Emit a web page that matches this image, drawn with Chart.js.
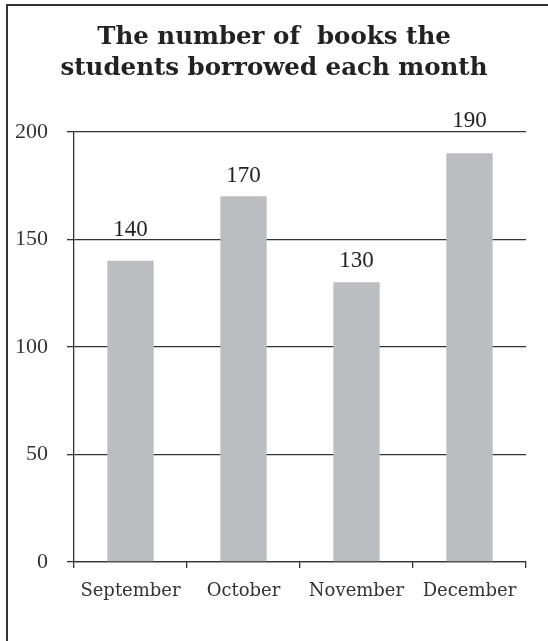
<!DOCTYPE html>
<html>
<head>
<meta charset="utf-8">
<script src="https://cdn.jsdelivr.net/npm/chart.js@4/dist/chart.umd.min.js"></script>
<style>
    body { margin: 0; background: #fff; }
    #wrap { position: relative; width: 548px; height: 641px; overflow: hidden; }
    #frame {
        position: absolute; left: 6px; top: 4px; width: 600px; height: 700px;
        border-left: 2px solid #333; border-top: 2px solid #333; pointer-events: none;
    }
</style>
</head>
<body>
<div id="wrap">
    <canvas id="booksChart" width="548" height="641"></canvas>
    <div id="frame"></div>
</div>
<script>
const TITLE_LINES = ['The number of  books the', 'students borrowed each month'];
const MONTHS = ['September', 'October', 'November', 'December'];
const BOOKS = [140, 170, 130, 190];
const Y_TICKS = [0, 50, 100, 150, 200];

// labels in the original sit a little irregularly above the bars
const labelOffsets = [25, 14, 15, 26];

const valueLabels = {
    id: 'valueLabels',
    afterDatasetsDraw(chart) {
        const ctx = chart.ctx;
        const meta = chart.getDatasetMeta(0);
        ctx.save();
        ctx.font = '23px "Liberation Serif"';
        ctx.fillStyle = '#222';
        ctx.textAlign = 'center';
        ctx.textBaseline = 'alphabetic';
        meta.data.forEach((bar, i) => {
            ctx.fillText(String(BOOKS[i]), bar.x, bar.y - labelOffsets[i]);
        });
        ctx.restore();
    }
};

const ctx = document.getElementById('booksChart').getContext('2d');
const chart = new Chart(ctx, {
    type: 'bar',
    data: {
        labels: MONTHS,
        datasets: [{
            data: BOOKS,
            backgroundColor: '#bcbdc1',
            borderWidth: 0,
            barPercentage: 0.41,
            categoryPercentage: 1
        }]
    },
    options: {
        responsive: false,
        animation: false,
        layout: { padding: { left: 14, right: 14, top: 0, bottom: 0 } },
        plugins: {
            legend: { display: false },
            tooltip: { enabled: false },
            title: {
                display: true,
                text: TITLE_LINES,
                color: '#222',
                font: { family: '"DejaVu Serif"', size: 24.5, weight: 'bold', lineHeight: 1.27 },
                padding: { top: 22, bottom: 47.5 }
            }
        },
        scales: {
            x: {
                offset: true,
                grid: {
                    offset: true,
                    drawOnChartArea: false,
                    drawTicks: true,
                    tickLength: 6,
                    color: '#333',
                    lineWidth: 1.3
                },
                border: { color: '#333', width: 1.3 },
                ticks: {
                    color: '#333',
                    padding: 13,
                    font: { family: '"DejaVu Serif"', size: 18 }
                },
                afterFit: (scale) => { scale.height = 79; }
            },
            y: {
                min: 0,
                max: 200,
                afterBuildTicks: (scale) => { scale.ticks = Y_TICKS.map(v => ({ value: v })); },
                grid: {
                    color: '#333',
                    lineWidth: 1.3,
                    tickLength: 7
                },
                border: { color: '#333', width: 1.3 },
                ticks: {
                    color: '#333',
                    padding: 19,
                    font: { family: '"Liberation Serif"', size: 22 }
                },
                afterFit: (scale) => { scale.width = 60; }
            },
            // empty strip on the right so the plot ends where the original does
            yRight: {
                position: 'right',
                display: true,
                grid: { display: false },
                border: { display: false },
                ticks: { display: false },
                afterFit: (scale) => { scale.width = 8; }
            }
        }
    },
    plugins: [valueLabels]
});
</script>
</body>
</html>
